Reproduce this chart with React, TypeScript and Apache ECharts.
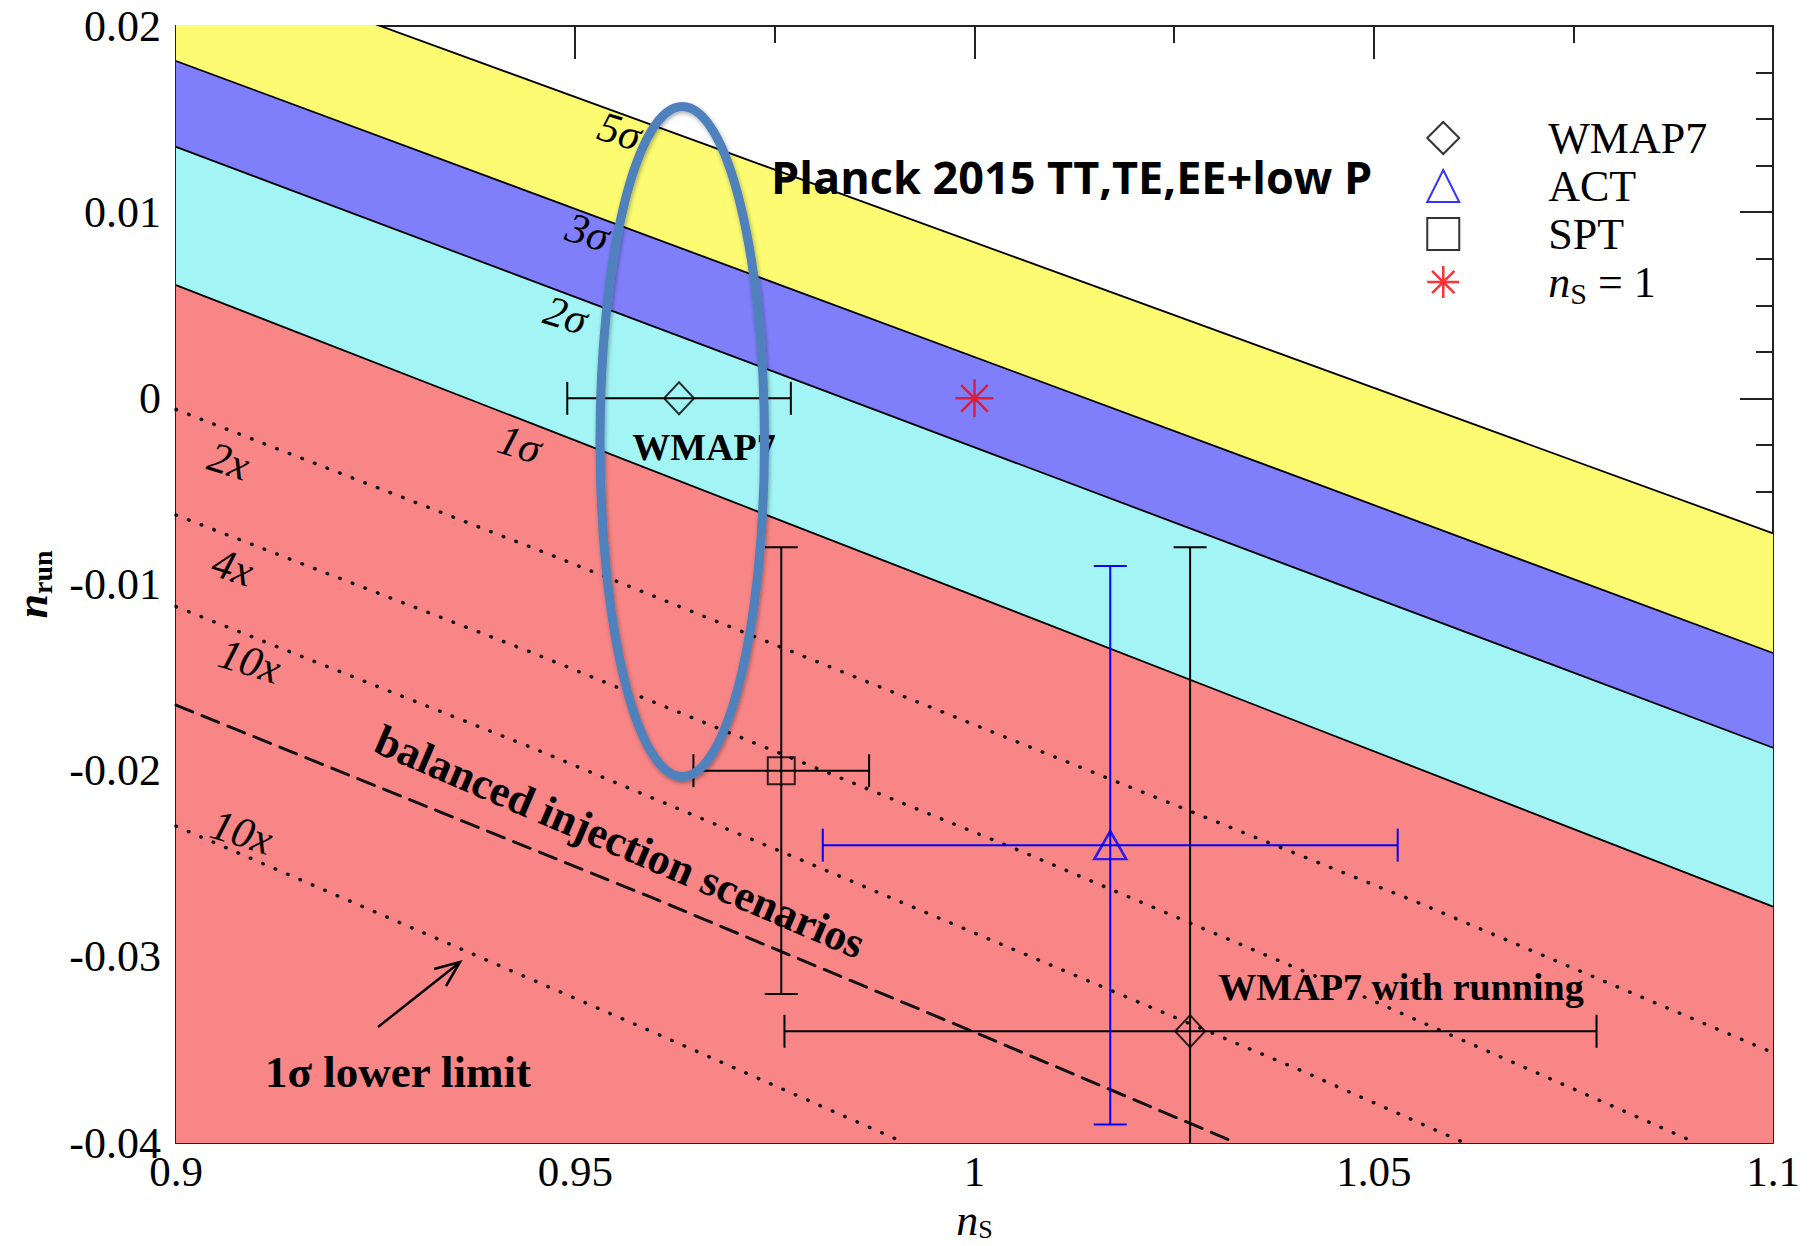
import React, { useEffect, useRef } from 'react';
import * as echarts from 'echarts';

// ---------- data ----------
const nsRange = [0.9, 1.1];
// sigma band boundaries (values at ns = 0.9 and ns = 1.1)
const sigma5Upper = [0.024, -0.00725];
const sigma5Lower = [0.01812, -0.01368];
const sigma3Lower = [0.01351, -0.01877];
const sigma2Lower = [0.00608, -0.0273];

// dotted / dashed scenario curves
const ns2x = [0.9, 0.9464, 1.0558, 1.1];
const nrun2x = [-0.0006, -0.00832, -0.02713, -0.03515];
const ns4x = [0.9, 0.9443, 1.0064, 1.0483, 1.0904];
const nrun4x = [-0.00627, -0.01361, -0.02443, -0.03206, -0.04];
const ns10xA = [0.9, 0.9443, 0.9783, 1.0408, 1.0614];
const nrun10xA = [-0.01119, -0.01872, -0.0248, -0.03609, -0.04];
const nsBalanced = [0.9, 0.9594, 0.9999, 1.0328];
const nrunBalanced = [-0.01648, -0.02678, -0.03403, -0.04];
const ns10xB = [0.9, 0.9358, 0.9592, 0.9913];
const nrun10xB = [-0.02298, -0.0296, -0.03394, -0.04];

// measurements: ns, nrun, nsLow, nsHigh, nrunLow, nrunHigh
const wmap7Ns = [0.963, 1.027];
const wmap7Nrun = [0, -0.034];
const wmap7NsLow = [0.949, 0.9762];
const wmap7NsHigh = [0.977, 1.0779];
const wmap7NrunLow = [0, -0.06];
const wmap7NrunHigh = [0, -0.008];

const actNs = [1.017];
const actNrun = [-0.024];
const actNsLow = [0.981];
const actNsHigh = [1.053];
const actNrunLow = [-0.039];
const actNrunHigh = [-0.009];

const sptNs = [0.9758];
const sptNrun = [-0.02];
const sptNsLow = [0.9648];
const sptNsHigh = [0.9868];
const sptNrunLow = [-0.032];
const sptNrunHigh = [-0.008];

const ns1Point = [1.0, 0];

// highlight ellipse: center ns, center nrun, half-width (ns), half-height (nrun)
const ellipseSpec = [0.9634, -0.00232, 0.0103, 0.018];

const xTicks = { min: 0.9, max: 1.1, interval: 0.05 };
const yTicks = { min: -0.04, max: 0.02, interval: 0.01 };

// ---------- helpers ----------
const zip = (a: number[], b: number[]) => a.map((v, i) => [v, b[i]]);
const serif = '"Liberation Serif", "Times New Roman", serif';
const starPath = 'path://M10,0L10,20M0,10L20,10M3,3L17,17M3,17L17,3';

const errData = (ns: number[], nr: number[], nl: number[], nh: number[], rl: number[], rh: number[]) =>
  ns.map((v, i) => [v, nr[i], nl[i], nh[i], rl[i], rh[i]]);

const errorSeries = (name: string, data: number[][], color: string) => ({
  name,
  type: 'custom',
  clip: true,
  z: 4,
  silent: true,
  data,
  renderItem: (params: any, api: any) => {
    const x = api.value(0);
    const y = api.value(1);
    const xl = api.value(2);
    const xh = api.value(3);
    const yl = api.value(4);
    const yh = api.value(5);
    const pl = api.coord([xl, y]);
    const ph = api.coord([xh, y]);
    const cap = 16.5;
    const style = { stroke: color, lineWidth: 2, fill: 'none' };
    const children: any[] = [
      { type: 'line', shape: { x1: pl[0], y1: pl[1], x2: ph[0], y2: ph[1] }, style },
      { type: 'line', shape: { x1: pl[0], y1: pl[1] - cap, x2: pl[0], y2: pl[1] + cap }, style },
      { type: 'line', shape: { x1: ph[0], y1: ph[1] - cap, x2: ph[0], y2: ph[1] + cap }, style },
    ];
    if (yl !== yh) {
      const vl = api.coord([x, yl]);
      const vh = api.coord([x, yh]);
      children.push(
        { type: 'line', shape: { x1: vl[0], y1: vl[1], x2: vh[0], y2: vh[1] }, style },
        { type: 'line', shape: { x1: vl[0] - cap, y1: vl[1], x2: vl[0] + cap, y2: vl[1] }, style },
        { type: 'line', shape: { x1: vh[0] - cap, y1: vh[1], x2: vh[0] + cap, y2: vh[1] }, style }
      );
    }
    return { type: 'group', children };
  },
});

const bandSeries = (name: string, vals: number[], color: string, z: number) => ({
  name,
  type: 'line',
  data: zip(nsRange, vals),
  symbol: 'none',
  silent: true,
  z,
  lineStyle: { color: '#000', width: 1.8 },
  areaStyle: { color, opacity: 1, origin: 'start' },
});

const curveSeries = (name: string, xs: number[], ys: number[], dash: number[], width: number) => ({
  name,
  type: 'line',
  data: zip(xs, ys),
  symbol: 'none',
  silent: true,
  z: 3,
  lineStyle: { color: '#111', width, type: dash, cap: 'round' },
});

const labelText = (
  text: string,
  x: number,
  y: number,
  size: number,
  opts: { bold?: boolean; italic?: boolean; rot?: number; family?: string; align?: string } = {}
) => ({
  type: 'text',
  x,
  y,
  rotation: opts.rot || 0,
  z: 6,
  silent: true,
  style: {
    text,
    fontSize: size,
    fontFamily: opts.family || serif,
    fontWeight: opts.bold ? 'bold' : 'normal',
    fontStyle: opts.italic ? 'italic' : 'normal',
    fill: '#000',
    textAlign: opts.align || 'center',
    textVerticalAlign: 'middle',
    align: opts.align || 'center',
    verticalAlign: 'middle',
  },
});

export default function App() {
  const ref = useRef<HTMLDivElement>(null);
  useEffect(() => {
    if (!ref.current) return;
    const chart = echarts.init(ref.current, undefined, { renderer: 'svg' });

    const axisCommon = {
      axisLine: { show: true, onZero: false, lineStyle: { color: '#222', width: 2 } },
      axisTick: { show: true, inside: true, length: 33, lineStyle: { color: '#222', width: 2 } },
      minorTick: { show: true, length: 17, lineStyle: { color: '#222', width: 2 } },
      splitLine: { show: false },
      nameMoveOverlap: false,
    };

    const option: any = {
      animation: false,
      backgroundColor: '#fff',
      grid: {
        left: 176,
        top: 26,
        right: 44,
        bottom: 103,
        containLabel: false,
        outerBoundsMode: 'none',
      },
      xAxis: [
        {
          type: 'value',
          ...xTicks,
          position: 'bottom',
          ...axisCommon,
          minorTick: { ...axisCommon.minorTick, splitNumber: 2 },
          axisLabel: { fontFamily: serif, fontSize: 43, color: '#000', margin: 7 },
          name: '{i|n}{s|S}',
          nameLocation: 'middle',
          nameGap: 55,
          nameTextStyle: {
            rich: {
              i: { fontFamily: serif, fontStyle: 'italic', fontSize: 44, color: '#000' },
              s: { fontFamily: serif, fontSize: 26, color: '#000', verticalAlign: 'bottom', padding: [18, 0, 0, 0] },
            },
          },
        },
        {
          type: 'value',
          ...xTicks,
          position: 'top',
          ...axisCommon,
          minorTick: { ...axisCommon.minorTick, splitNumber: 2 },
          axisLabel: { show: false },
        },
      ],
      yAxis: [
        {
          type: 'value',
          ...yTicks,
          position: 'left',
          ...axisCommon,
          minorTick: { ...axisCommon.minorTick, splitNumber: 4 },
          axisLabel: { fontFamily: serif, fontSize: 44, color: '#000', margin: 15 },
          name: '{i|n}{s|run}',
          nameLocation: 'middle',
          nameGap: 120,
          nameTextStyle: {
            rich: {
              i: { fontFamily: serif, fontStyle: 'italic', fontWeight: 'bold', fontSize: 44, color: '#000' },
              s: { fontFamily: serif, fontSize: 28, fontWeight: 'bold', color: '#000', verticalAlign: 'bottom', padding: [20, 0, 0, 0] },
            },
          },
        },
        {
          type: 'value',
          ...yTicks,
          position: 'right',
          ...axisCommon,
          minorTick: { ...axisCommon.minorTick, splitNumber: 4 },
          axisLabel: { show: false },
        },
      ],
      legend: {
        orient: 'vertical',
        left: 1421,
        top: 111,
        itemWidth: 32,
        itemHeight: 32,
        itemGap: 4,
        selectedMode: false,
        data: [
          { name: 'WMAP7', icon: 'diamond', itemStyle: { color: 'rgba(0,0,0,0)', borderColor: '#000', borderWidth: 2 } },
          { name: 'ACT', icon: 'triangle', itemStyle: { color: 'rgba(0,0,0,0)', borderColor: '#0000ff', borderWidth: 2 } },
          { name: 'SPT', icon: 'rect', itemStyle: { color: 'rgba(0,0,0,0)', borderColor: '#000', borderWidth: 2 } },
          { name: 'ns1', icon: starPath, itemStyle: { color: 'rgba(0,0,0,0)', borderColor: '#ff0000', borderWidth: 2.5 } },
        ],
        formatter: (name: string) => (name === 'ns1' ? '{i|n}{s|S}{t| = 1}' : name),
        textStyle: {
          fontFamily: serif,
          fontSize: 44,
          color: '#000',
          padding: [0, 0, 0, 84],
          rich: {
            i: { fontFamily: serif, fontStyle: 'italic', fontSize: 44, color: '#000' },
            s: { fontFamily: serif, fontSize: 30, color: '#000', verticalAlign: 'bottom', padding: [22, 0, 0, 0] },
            t: { fontFamily: serif, fontSize: 44, color: '#000' },
          },
        },
      },
      graphic: {
        elements: [
          labelText('5σ', 620, 131, 43, { italic: true, rot: -0.3 }),
          labelText('3σ', 588, 232, 43, { italic: true, rot: -0.3 }),
          labelText('2σ', 566, 315, 43, { italic: true, rot: -0.3 }),
          labelText('1σ', 520, 444, 43, { italic: true, rot: -0.3 }),
          labelText('2x', 229, 461, 43, { italic: true, rot: -0.3 }),
          labelText('4x', 233, 567, 43, { italic: true, rot: -0.3 }),
          labelText('10x', 250, 661, 43, { italic: true, rot: -0.3 }),
          labelText('10x', 242, 832, 43, { italic: true, rot: -0.3 }),
          labelText('WMAP7', 704, 447, 38, { bold: true }),
          labelText('balanced injection scenarios', 620, 842, 44, { bold: true, rot: -0.405 }),
          labelText('WMAP7 with running', 1401, 987, 38, { bold: true }),
          labelText('1σ lower limit', 398, 1072, 45, { bold: true }),
          labelText('Planck 2015 TT,TE,EE+low P', 771, 176, 45, {
            bold: true,
            family: '"Open Sans", "Noto Sans", sans-serif',
            align: 'left',
          }),
          {
            type: 'line',
            z: 6,
            silent: true,
            shape: { x1: 378, y1: 1027, x2: 459, y2: 963 },
            style: { stroke: '#000', lineWidth: 2.5 },
          },
          {
            type: 'polyline',
            z: 6,
            silent: true,
            shape: { points: [[446, 986], [460, 962], [434, 969]] },
            style: { stroke: '#000', lineWidth: 2.5, fill: 'none' },
          },
        ],
      },
      series: [
        bandSeries('5sigma', sigma5Upper, '#fcfb72', 1),
        bandSeries('3sigma', sigma5Lower, '#7f7ffb', 1),
        bandSeries('2sigma', sigma3Lower, '#a3f5f5', 1),
        bandSeries('1sigma', sigma2Lower, '#f98686', 1),
        curveSeries('2x', ns2x, nrun2x, [0.5, 13], 3.5),
        curveSeries('4x', ns4x, nrun4x, [0.5, 13], 3.5),
        curveSeries('10x', ns10xA, nrun10xA, [0.5, 13], 3.5),
        curveSeries('10x lower', ns10xB, nrun10xB, [0.5, 13], 3.5),
        curveSeries('balanced', nsBalanced, nrunBalanced, [18, 10], 3),
        errorSeries('WMAP7 err', errData(wmap7Ns, wmap7Nrun, wmap7NsLow, wmap7NsHigh, wmap7NrunLow, wmap7NrunHigh), '#000'),
        errorSeries('SPT err', errData(sptNs, sptNrun, sptNsLow, sptNsHigh, sptNrunLow, sptNrunHigh), '#000'),
        errorSeries('ACT err', errData(actNs, actNrun, actNsLow, actNsHigh, actNrunLow, actNrunHigh), '#0000ff'),
        {
          name: 'WMAP7',
          type: 'scatter',
          z: 5,
          silent: true,
          data: zip(wmap7Ns, wmap7Nrun),
          symbol: 'diamond',
          symbolSize: [30, 32],
          itemStyle: { color: 'rgba(0,0,0,0)', borderColor: '#000', borderWidth: 2 },
        },
        {
          name: 'ACT',
          type: 'scatter',
          z: 5,
          silent: true,
          data: zip(actNs, actNrun),
          symbol: 'triangle',
          symbolSize: [32, 28],
          itemStyle: { color: 'rgba(0,0,0,0)', borderColor: '#0000ff', borderWidth: 2.5 },
        },
        {
          name: 'SPT',
          type: 'scatter',
          z: 5,
          silent: true,
          data: zip(sptNs, sptNrun),
          symbol: 'rect',
          symbolSize: 27,
          itemStyle: { color: 'rgba(0,0,0,0)', borderColor: '#000', borderWidth: 2 },
        },
        {
          name: 'ns1',
          type: 'scatter',
          z: 5,
          silent: true,
          data: [ns1Point],
          symbol: starPath,
          symbolSize: 38,
          itemStyle: { color: 'rgba(0,0,0,0)', borderColor: '#ff0000', borderWidth: 2.5 },
        },
        {
          name: 'highlight',
          type: 'custom',
          z: 10,
          silent: true,
          clip: false,
          data: [ellipseSpec],
          renderItem: (params: any, api: any) => {
            const c = api.coord([api.value(0), api.value(1)]);
            const sz = api.size([api.value(2), api.value(3)]);
            return {
              type: 'ellipse',
              shape: { cx: c[0], cy: c[1], rx: sz[0], ry: sz[1] },
              style: {
                fill: 'none',
                stroke: '#4f81bd',
                lineWidth: 9,
                shadowBlur: 4,
                shadowColor: 'rgba(0,0,0,0.35)',
                shadowOffsetX: 1,
                shadowOffsetY: 2,
              },
            };
          },
        },
      ],
    };

    chart.setOption(option);
    return () => chart.dispose();
  }, []);

  return (
    <div
      ref={ref}
      style={{ position: 'fixed', left: 0, top: 0, width: 1817, height: 1246, background: '#fff' }}
    />
  );
}
